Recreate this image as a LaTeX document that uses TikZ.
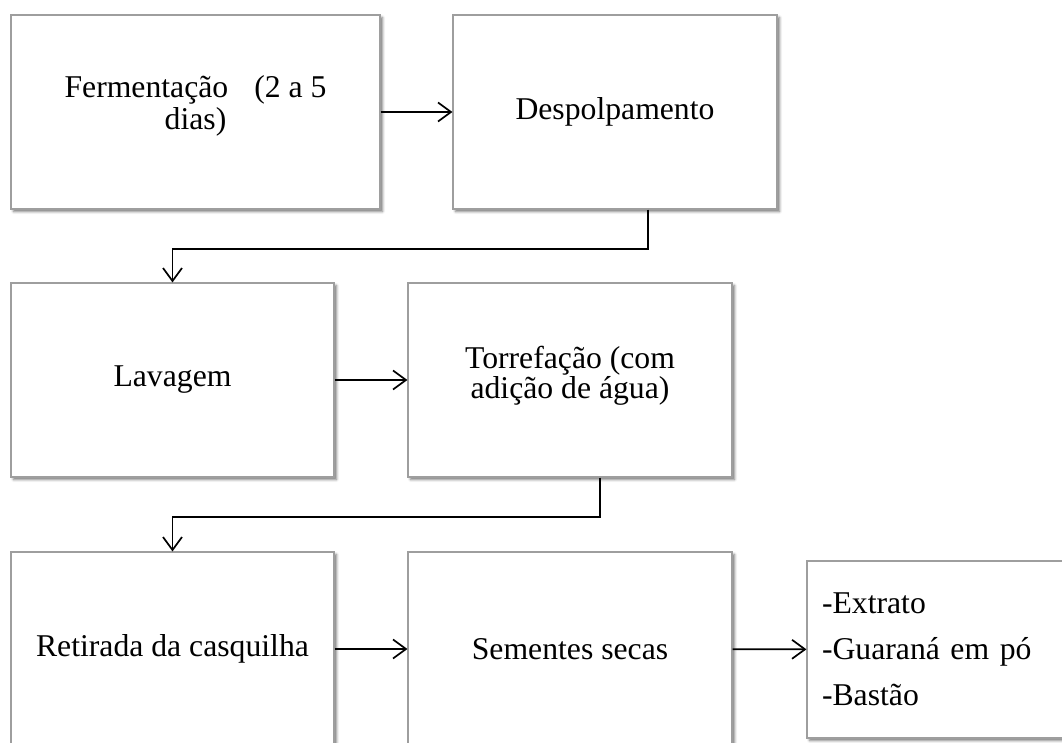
\documentclass[tikz,border=0pt]{standalone}
\usepackage{fontspec}
\setmainfont{Liberation Serif}
\usetikzlibrary{arrows.meta,shadows.blur}
% invisible strut that deepens the last line of a label
\newcommand{\lowstrut}[1]{\rule[-#1]{0pt}{1pt}}
\begin{document}
\begin{tikzpicture}[x=1pt,y=-1pt,
  stage/.style={rectangle, draw=black!38, line width=1.1pt, fill=white,
    minimum width=324pt, minimum height=194pt, inner sep=0pt, align=center,
    font=\fontsize{31.7}{32}\selectfont,
    blur shadow={shadow xshift=2.5pt, shadow yshift=-2.5pt,
      shadow blur radius=2.5pt, shadow opacity=55}},
  flow/.style={line width=1.7pt,
    -{Straight Barb[length=13pt,width=19pt,line width=1.7pt]}},
]
\useasboundingbox (0,0) rectangle (1062,743);
\clip (0,0) rectangle (1062,743);

% process steps, three rows
\node[stage, minimum width=369pt] (ferm) at (195.5,112)
  {Fermentação\hspace{26pt}(2 a 5\\dias)\lowstrut{18pt}};
\node[stage] (desp) at (615,112) {Despolpamento};
\node[stage, minimum width=323pt] (lav) at (172.5,380) {Lavagem};
\node[stage, font=\fontsize{31.7}{27}\selectfont] (torr) at (570,380)
  {Torrefação (com\\adição de água)\lowstrut{16pt}};
\node[stage, minimum width=323pt] (ret) at (172.5,649) {Retirada da casquilha};
\node[stage] (sem) at (570,649) {Sementes secas};
\node[stage, minimum width=256pt, minimum height=177pt, align=left,
  text width=226pt, font=\fontsize{31.7}{46}\selectfont] (prod) at (935,649.5)
  {-Extrato\\-Guaraná em pó\\-Bastão};

% bends between rows
\coordinate (k1) at (648,249);
\coordinate (k2) at (600,517);

% connectors
\draw[flow] (ferm) -- (desp);
\draw[flow] (desp.south -| k1) -- (k1) -| (lav.north);
\draw[flow] (lav) -- (torr);
\draw[flow] (torr.south -| k2) -- (k2) -| (ret.north);
\draw[flow] (ret) -- (sem);
\draw[flow] (sem) -- (prod);
\end{tikzpicture}
\end{document}
